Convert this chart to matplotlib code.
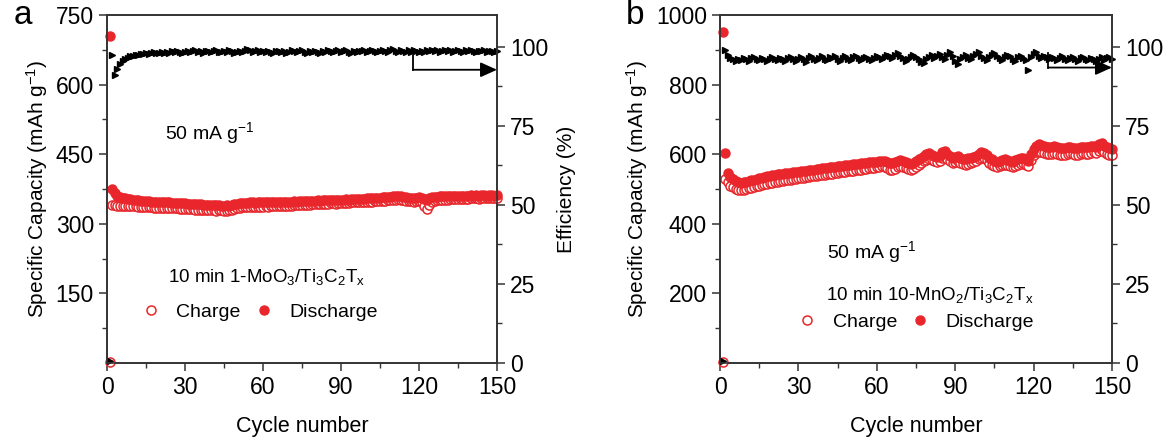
import matplotlib
matplotlib.use("Agg")
import matplotlib.pyplot as plt

plt.rcParams['font.family'] = ['Liberation Sans', 'DejaVu Sans']
plt.rcParams['mathtext.fontset'] = 'custom'
plt.rcParams['mathtext.rm'] = 'Liberation Sans'
plt.rcParams['mathtext.it'] = 'Liberation Sans:italic'

cycles = list(range(1, 151))

# painel a : 10 min 1-MoO3/Ti3C2Tx
descarga_a = [
    705, 375, 366, 361, 358, 356, 355, 354, 353, 352,
    351, 351, 350, 350, 349, 349, 348, 348, 348, 347,
    347, 346, 346, 346, 345, 345, 345, 344, 344, 344,
    343, 343, 343, 342, 342, 342, 341, 341, 341, 340,
    340, 340, 340, 339, 339, 340, 339, 340, 342, 343,
    344, 345, 345, 345, 346, 346, 345, 346, 346, 346,
    346, 347, 346, 347, 347, 347, 348, 347, 348, 348,
    348, 349, 348, 349, 349, 350, 349, 350, 350, 350,
    351, 350, 351, 351, 352, 351, 352, 352, 351, 352,
    352, 353, 352, 353, 353, 354, 353, 354, 354, 355,
    355, 356, 356, 355, 356, 357, 357, 358, 358, 359,
    360, 361, 360, 358, 357, 356, 356, 355, 356, 357,
    356, 354, 352, 355, 357, 358, 358, 359, 359, 360,
    360, 360, 361, 360, 361, 361, 360, 361, 361, 362,
    361, 362, 361, 362, 362, 361, 362, 362, 361, 362]
carga_a = [
    2, 340, 340, 339, 339, 339, 338, 338, 338, 338,
    338, 337, 337, 337, 336, 336, 336, 335, 335, 335,
    335, 334, 334, 334, 333, 333, 333, 332, 332, 332,
    331, 331, 331, 330, 330, 330, 330, 329, 329, 329,
    329, 328, 329, 330, 328, 327, 329, 330, 332, 334,
    335, 336, 336, 336, 337, 337, 336, 337, 337, 337,
    338, 337, 338, 338, 338, 339, 339, 338, 339, 339,
    339, 340, 340, 340, 340, 341, 341, 341, 342, 342,
    342, 342, 343, 343, 343, 344, 344, 343, 344, 344,
    345, 345, 345, 346, 346, 346, 347, 347, 347, 348,
    348, 348, 349, 349, 350, 350, 350, 351, 351, 352,
    352, 353, 352, 351, 350, 349, 349, 348, 349, 350,
    348, 338, 332, 340, 348, 350, 351, 351, 352, 352,
    352, 353, 353, 353, 354, 353, 354, 354, 354, 355,
    355, 355, 354, 355, 355, 356, 355, 356, 356, 355]
eficiencia_a = [
    0.5, 97.5, 91.0, 93.0, 94.5, 95.5, 96.0, 96.5, 97.0, 97.2,
    97.5, 97.3, 97.8, 97.6, 98.0, 97.7, 98.0, 98.2, 97.9, 98.1,
    98.3, 98.0, 98.4, 98.1, 98.5, 98.2, 98.6, 98.3, 98.0, 98.4,
    98.6, 98.2, 98.5, 98.8, 98.3, 98.6, 98.1, 98.5, 98.7, 98.3,
    98.6, 98.9, 98.4, 98.2, 98.6, 98.3, 98.8, 98.5, 98.1, 98.4,
    98.7, 98.3, 98.6, 99.2, 98.8, 98.4, 98.6, 98.9, 98.3, 98.5,
    98.2, 98.6, 98.4, 98.0, 98.5, 98.7, 98.3, 98.6, 98.1, 98.4,
    98.8, 98.5, 98.2, 98.6, 98.9, 98.4, 98.1, 98.5, 98.3, 98.7,
    98.4, 98.1, 98.6, 98.3, 98.8, 98.5, 98.2, 98.6, 98.9, 98.3,
    98.5, 98.8, 98.4, 98.1, 98.6, 98.3, 98.7, 98.5, 98.9, 98.4,
    98.6, 99.0, 98.5, 98.2, 98.7, 99.1, 98.6, 98.3, 98.8, 99.2,
    98.7, 98.4, 98.9, 98.5, 98.2, 98.8, 98.4, 98.9, 98.6, 98.3,
    98.7, 98.4, 98.9, 98.6, 99.0, 98.5, 98.8, 98.3, 98.6, 98.9,
    98.5, 98.8, 98.4, 98.7, 99.0, 98.6, 98.3, 98.8, 98.5, 98.9,
    98.6, 98.3, 98.7, 98.5, 98.9, 98.4, 98.7, 98.5, 98.2, 98.6]

# painel b : 10 min 10-MnO2/Ti3C2Tx
descarga_b = [
    950, 603, 545, 535, 528, 522, 520, 518, 519, 521,
    523, 525, 527, 529, 531, 533, 535, 536, 538, 539,
    540, 542, 543, 544, 545, 546, 547, 548, 549, 550,
    551, 552, 553, 554, 555, 556, 557, 558, 559, 560,
    561, 562, 563, 564, 565, 566, 567, 568, 569, 570,
    571, 572, 573, 574, 575, 576, 577, 578, 578, 579,
    580, 580, 581, 578, 576, 575, 578, 580, 582, 580,
    578, 575, 572, 576, 580, 585, 590, 596, 600, 603,
    598, 595, 592, 596, 605, 608, 600, 595, 590, 593,
    595, 590, 586, 585, 588, 590, 592, 595, 600, 606,
    604, 598, 590, 585, 580, 578, 580, 583, 585, 582,
    580, 578, 582, 585, 588, 590, 585, 580, 600, 615,
    625, 628, 626, 624, 622, 620, 622, 624, 620, 618,
    617, 618, 620, 622, 619, 617, 618, 620, 622, 620,
    621, 623, 625, 622, 628, 633, 625, 620, 618, 615]
carga_b = [
    3, 530, 520, 510, 505, 500, 498, 497, 498, 500,
    502, 504, 506, 508, 510, 512, 514, 515, 517, 518,
    520, 521, 523, 524, 525, 526, 527, 528, 529, 531,
    532, 533, 534, 535, 536, 537, 538, 539, 540, 541,
    542, 543, 544, 545, 546, 548, 549, 550, 551, 552,
    553, 554, 555, 556, 557, 558, 559, 560, 561, 563,
    564, 565, 564, 560, 556, 555, 558, 562, 565, 563,
    560, 557, 555, 558, 563, 568, 574, 580, 584, 587,
    583, 580, 577, 580, 588, 591, 585, 580, 576, 578,
    580, 576, 572, 570, 573, 575, 577, 580, 585, 590,
    588, 583, 576, 570, 566, 564, 566, 569, 570, 568,
    566, 564, 567, 570, 573, 575, 570, 565, 583, 597,
    605, 607, 606, 604, 602, 600, 602, 604, 601, 599,
    598, 599, 601, 603, 600, 598, 599, 601, 603, 601,
    602, 604, 606, 603, 608, 612, 606, 601, 599, 597]
eficiencia_b = [
    0.5, 99.0, 97.5, 96.5, 96.0, 95.5, 96.2, 95.8, 96.5, 96.0,
    95.6, 96.3, 96.8, 96.1, 95.7, 96.4, 96.0, 95.5, 96.2, 96.6,
    96.0, 95.8, 96.5, 96.1, 95.4, 96.3, 96.7, 96.0, 95.6, 96.2,
    96.8, 96.1, 95.2, 96.4, 96.9, 96.0, 95.7, 96.5, 97.0, 96.2,
    95.8, 96.6, 96.3, 97.2, 96.0, 95.6, 96.4, 96.9, 96.2, 95.9,
    96.6, 97.0, 96.3, 95.9, 96.5, 96.8, 96.1, 95.7, 96.4, 97.1,
    96.6, 96.2, 96.8, 97.5, 96.9, 96.3, 97.3, 98.0, 97.1, 96.4,
    95.6, 96.2, 96.8, 97.4, 96.6, 96.0, 95.2, 94.8, 96.0, 96.7,
    97.3, 96.5, 97.0, 97.6, 96.8, 96.2, 97.5, 98.2, 97.0, 95.5,
    94.5, 96.0, 96.8, 97.4, 96.5, 96.0, 96.9, 97.8, 98.3, 97.2,
    96.5, 95.8, 96.6, 97.4, 98.0, 97.1, 96.4, 95.8, 96.7, 97.5,
    96.9, 96.1, 95.5, 96.6, 97.2, 96.4, 95.9, 92.5, 96.8, 97.6,
    98.2, 97.0, 96.5, 97.1, 96.6, 96.1, 96.8, 96.3, 95.9, 96.5,
    96.9, 96.2, 95.8, 96.4, 96.7, 96.0, 95.6, 96.3, 96.8, 96.1,
    95.7, 96.4, 96.0, 95.5, 96.2, 96.6, 95.9, 96.3, 96.7, 96.0]

paineis = [
    dict(letra='a', pos=[0.0915, 0.1769, 0.3333, 0.789], ymax=750,
         yticks=[150, 300, 450, 600, 750], carga=carga_a, descarga=descarga_a,
         eff=eficiencia_a, amostra=r'10 min 1-MoO$_3$/Ti$_3$C$_2$T$_\mathrm{x}$',
         pos_amostra=(0.41, 0.247), pos_corrente=(0.264, 0.661),
         pos_legenda=(0.39, 0.147), seta=(117.7, 97.5, 92.7), label_dir=True),
    dict(letra='b', pos=[0.6154, 0.1769, 0.335, 0.789], ymax=1000,
         yticks=[200, 400, 600, 800, 1000], carga=carga_b, descarga=descarga_b,
         eff=eficiencia_b, amostra=r'10 min 10-MnO$_2$/Ti$_3$C$_2$T$_\mathrm{x}$',
         pos_amostra=(0.536, 0.195), pos_corrente=(0.388, 0.319),
         pos_legenda=(0.50, 0.118), seta=(125.6, 98.0, 93.4), label_dir=False),
]

vermelho = '#e8262b'
cinza = '#333333'

fig = plt.figure(figsize=(11.7, 4.41), dpi=100)

for p in paineis:
    ax = fig.add_axes(p['pos'])
    ax2 = ax.twinx()

    ax.plot(cycles, p['carga'], 'o', mfc='white', mec=vermelho, mew=1.1, ms=6.5,
            label='Charge', clip_on=False, zorder=3)
    ax.plot(cycles, p['descarga'], 'o', color=vermelho, ms=6.5,
            label='Discharge', clip_on=False, zorder=4)
    ax2.plot(cycles, p['eff'], '>', color='black', ms=4.8, clip_on=False)

    ax.set_xlim(0, 150)
    ax.set_ylim(0, p['ymax'])
    ax2.set_ylim(0, 110)
    ax.set_xticks([0, 30, 60, 90, 120, 150])
    ax.set_xticks(range(15, 150, 30), minor=True)
    ax.set_yticks(p['yticks'])
    ax.set_yticks([t - p['yticks'][0] / 2 for t in p['yticks']], minor=True)
    ax2.set_yticks([0, 25, 50, 75, 100])
    ax2.set_yticks([12.5, 37.5, 62.5, 87.5], minor=True)

    for a in (ax, ax2):
        for s in a.spines.values():
            s.set_color(cinza)
            s.set_linewidth(1.2)
        a.tick_params(which='major', direction='out', length=6, width=1.1,
                      colors=cinza, labelcolor='black', labelsize=16.5)
        a.tick_params(which='minor', direction='out', length=3.5, width=1.0,
                      colors=cinza)

    ax.set_xlabel('Cycle number', fontsize=15.5, labelpad=12)
    ax.set_ylabel('Specific Capacity (mAh g$^{-1}$)', fontsize=15, labelpad=4)
    if p['label_dir']:
        ax2.set_ylabel('Efficiency (%)', fontsize=15, labelpad=6)

    ax.text(-0.24, 1.0, p['letra'], transform=ax.transAxes, fontsize=24,
            va='center', ha='left')
    ax.text(*p['pos_corrente'], '50 mA g$^{-1}$', transform=ax.transAxes,
            fontsize=14, ha='center', va='center')
    ax.text(*p['pos_amostra'], p['amostra'], transform=ax.transAxes,
            fontsize=13.5, ha='center', va='center')
    ax.legend(loc='center', bbox_to_anchor=p['pos_legenda'], ncol=2,
              frameon=False, fontsize=14, handlelength=1.0, handletextpad=0.8,
              columnspacing=0.7, numpoints=1)

    # seta indicando o eixo da direita
    xs, y0, y1 = p['seta']
    ax2.plot([xs, xs], [y0, y1], color='black', lw=1.3)
    ax2.annotate('', xy=(150, y1), xytext=(xs, y1),
                 arrowprops=dict(arrowstyle='-|>,head_length=1.0,head_width=0.45',
                                 color='black', lw=1.3, shrinkA=0, shrinkB=0))

plt.savefig('out.png', dpi=100)
